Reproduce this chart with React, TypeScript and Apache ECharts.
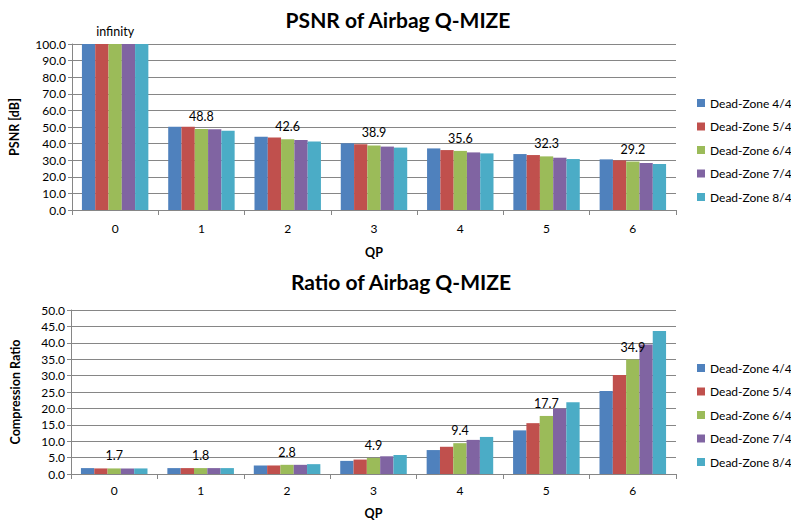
import React, { useEffect, useRef } from "react";
import * as echarts from "echarts";

const categories = ["0", "1", "2", "3", "4", "5", "6"];
const seriesNames = ["Dead-Zone 4/4", "Dead-Zone 5/4", "Dead-Zone 6/4", "Dead-Zone 7/4", "Dead-Zone 8/4"];
const colors = ["#4F81BD", "#C0504D", "#9BBB59", "#8064A2", "#4BACC6"];

const psnr44 = [100, 50.2, 44.1, 40.2, 37.1, 33.7, 30.5];
const psnr54 = [100, 50.1, 43.6, 39.6, 36.1, 33.1, 29.9];
const psnr64 = [100, 48.8, 42.6, 38.9, 35.6, 32.3, 29.2];
const psnr74 = [100, 48.7, 42.2, 38.2, 34.7, 31.5, 28.3];
const psnr84 = [100, 47.7, 41.2, 37.6, 34.1, 30.7, 27.7];
const psnrLabels = ["infinity", "48.8", "42.6", "38.9", "35.6", "32.3", "29.2"];

const ratio44 = [1.8, 1.8, 2.6, 4.0, 7.3, 13.3, 25.3];
const ratio54 = [1.7, 1.8, 2.6, 4.4, 8.3, 15.5, 30.2];
const ratio64 = [1.7, 1.8, 2.8, 4.9, 9.4, 17.7, 34.9];
const ratio74 = [1.7, 1.8, 2.8, 5.4, 10.4, 20.0, 39.5];
const ratio84 = [1.7, 1.8, 3.0, 5.8, 11.3, 21.9, 43.6];
const ratioLabels = ["1.7", "1.8", "2.8", "4.9", "9.4", "17.7", "34.9"];

const psnrSeries = [psnr44, psnr54, psnr64, psnr74, psnr84];
const ratioSeries = [ratio44, ratio54, ratio64, ratio74, ratio84];

const FONT = 'Lato, "Open Sans", sans-serif';

export default function App() {
  const ref = useRef<HTMLDivElement>(null);
  useEffect(() => {
    if (!ref.current) return;
    const chart = echarts.init(ref.current, undefined, { renderer: "svg" });
    const axisCommon = {
      axisLine: { show: true, lineStyle: { color: "#868686", width: 1 } },
      axisTick: { show: true, length: 4, lineStyle: { color: "#868686" } },
      axisLabel: { color: "#000", fontFamily: FONT, fontSize: 12 },
      nameTextStyle: { color: "#000", fontFamily: FONT, fontSize: 12.5, fontWeight: "bold" as const },
    };
    const mkBars = (data: number[][], labels: string[], gridIdx: number) =>
      data.map((vals, i) => ({
        type: "bar" as const,
        name: seriesNames[i],
        xAxisIndex: gridIdx,
        yAxisIndex: gridIdx,
        data: vals,
        barGap: "0%",
        barCategoryGap: "23%",
        itemStyle: { color: colors[i] },
        label:
          i === 2
            ? {
                show: true,
                position: "top" as const,
                distance: 6,
                color: "#000",
                fontFamily: FONT,
                fontSize: 12.5,
                formatter: (p: any) => labels[p.dataIndex],
              }
            : { show: false },
      }));
    const legendCommon = {
      orient: "vertical" as const,
      left: 692,
      itemWidth: 8,
      itemHeight: 8,
      itemGap: 11.5,
      icon: "rect",
      data: seriesNames,
      textStyle: { color: "#000", fontFamily: FONT, fontSize: 12 },
      selectedMode: false,
    };
    chart.setOption({
      animation: false,
      backgroundColor: "#fff",
      title: [
        {
          text: "PSNR of Airbag Q-MIZE",
          left: 393,
          top: 4,
          textAlign: "center",
          textStyle: { fontFamily: FONT, fontSize: 21, fontWeight: "bold", color: "#000" },
        },
        {
          text: "Ratio of Airbag Q-MIZE",
          left: 396,
          top: 266,
          textAlign: "center",
          textStyle: { fontFamily: FONT, fontSize: 21, fontWeight: "bold", color: "#000" },
        },
      ],
      legend: [
        { ...legendCommon, top: 92 },
        { ...legendCommon, top: 357 },
      ],
      grid: [
        { left: 70, top: 44, width: 606, height: 166 },
        { left: 71, top: 310, width: 605, height: 166 },
      ],
      xAxis: [0, 1].map((g) => ({
        type: "category",
        gridIndex: g,
        data: categories,
        name: "QP",
        nameLocation: "middle",
        nameGap: g === 0 ? 36 : 33,
        ...axisCommon,
        axisTick: { show: true, length: 5, alignWithLabel: false, lineStyle: { color: "#868686" } },
        axisLabel: { ...axisCommon.axisLabel, margin: g === 0 ? 12 : 10 },
        splitLine: { show: false },
      })),
      yAxis: [
        {
          type: "value",
          gridIndex: 0,
          min: 0,
          max: 100,
          interval: 10,
          name: "PSNR [dB]",
          nameLocation: "middle",
          nameGap: 51,
          ...axisCommon,
          axisLabel: { ...axisCommon.axisLabel, margin: 6, formatter: (v: number) => v.toFixed(1) },
          splitLine: { show: true, lineStyle: { color: "#868686", width: 1 } },
        },
        {
          type: "value",
          gridIndex: 1,
          min: 0,
          max: 50,
          interval: 5,
          name: "Compression Ratio",
          nameLocation: "middle",
          nameGap: 49,
          ...axisCommon,
          axisLabel: { ...axisCommon.axisLabel, margin: 6, formatter: (v: number) => v.toFixed(1) },
          splitLine: { show: true, lineStyle: { color: "#868686", width: 1 } },
        },
      ],
      series: [...mkBars(psnrSeries, psnrLabels, 0), ...mkBars(ratioSeries, ratioLabels, 1)],
    });
    return () => chart.dispose();
  }, []);
  return <div ref={ref} style={{ position: "fixed", left: 0, top: 0, width: 791, height: 521 }} />;
}
